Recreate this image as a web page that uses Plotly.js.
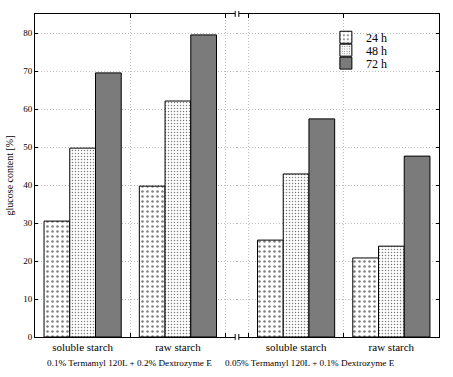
<!DOCTYPE html>
<html>
<head>
<meta charset="utf-8">
<script src="https://cdn.plot.ly/plotly-3.0.1.min.js"></script>
<style>html,body{margin:0;padding:0;background:#fff}#chart{width:453px;height:377px}</style>
</head>
<body>
<div id="chart"></div>
<script>
// ---- data ----
const categories = ["soluble starch", "raw starch"];
const groupLabels = ["0.1% Termamyl 120L + 0.2% Dextrozyme E", "0.05% Termamyl 120L + 0.1% Dextrozyme E"];
const seriesNames = ["24 h", "48 h", "72 h"];
// group A: 0.1% Termamyl 120L + 0.2% Dextrozyme E
const groupA_24h = [30.5, 39.7];
const groupA_48h = [49.7, 62.1];
const groupA_72h = [69.5, 79.5];
// group B: 0.05% Termamyl 120L + 0.1% Dextrozyme E
const groupB_24h = [25.5, 20.8];
const groupB_48h = [42.9, 23.9];
const groupB_72h = [57.4, 47.6];
const yTickVals = [0, 10, 20, 30, 40, 50, 60, 70, 80];

// ---- styles ----
const patterns = [
  {shape: ".", size: 5, solidity: 0.2, fgcolor: "#000", bgcolor: "#fff", fillmode: "overlay"},
  {shape: ".", size: 3, solidity: 0.2, fgcolor: "#000", bgcolor: "#fff", fillmode: "overlay"},
  {shape: ".", size: 2, solidity: 0.75, fgcolor: "#000", bgcolor: "#c4c4c4", fillmode: "overlay"}
];
const serif = "Liberation Serif";
const legendNames = ["legend", "legend2", "legend3"];
const legendY = [0.928, 0.888, 0.848];

const groupA = [groupA_24h, groupA_48h, groupA_72h];
const groupB = [groupB_24h, groupB_48h, groupB_72h];

const traces = [];
seriesNames.forEach((name, i) => {
  traces.push({
    type: "bar", name: name, x: categories, y: groupA[i],
    xaxis: "x", yaxis: "y", legendgroup: name, showlegend: true, legend: legendNames[i],
    marker: {color: "#fff", line: {color: "#000", width: 1}, pattern: patterns[i]}
  });
});
seriesNames.forEach((name, i) => {
  traces.push({
    type: "bar", name: name, x: categories, y: groupB[i],
    xaxis: "x2", yaxis: "y2", legendgroup: name, showlegend: false,
    marker: {color: "#fff", line: {color: "#000", width: 1}, pattern: patterns[i]}
  });
});

const gridStyle = {gridcolor: "#bdbdbd", griddash: "1px,2px", gridwidth: 1};
const xCommon = Object.assign({
  type: "category", showline: true, linecolor: "#000", linewidth: 1, mirror: "ticks",
  ticks: "inside", ticklen: 4, tickcolor: "#000", tickson: "boundaries",
  showgrid: true, zeroline: false, fixedrange: true,
  tickfont: {family: serif, size: 11, color: "#000"}
}, gridStyle);

const layout = {
  width: 453, height: 377,
  margin: {l: 35, r: 14, t: 14, b: 40},
  paper_bgcolor: "#fff", plot_bgcolor: "#fff",
  font: {family: serif, color: "#000"},
  bargap: 0.19, bargroupgap: 0, barmode: "group",
  showlegend: true,
  xaxis: Object.assign({}, xCommon, {domain: [0, 0.5], anchor: "y", range: [-0.5, 1.62]}),
  xaxis2: Object.assign({}, xCommon, {domain: [0.5, 1], anchor: "y2", range: [-0.62, 1.5]}),
  yaxis: Object.assign({
    range: [0, 85], anchor: "x", showline: true, linecolor: "#000", linewidth: 1,
    ticks: "inside", ticklen: 3, tickcolor: "#000", tickvals: yTickVals,
    zeroline: false, fixedrange: true,
    tickfont: {family: serif, size: 9, color: "#000"},
    title: {text: "glucose content [%]", font: {family: serif, size: 10, color: "#000"}, standoff: 7}
  }, gridStyle),
  yaxis2: Object.assign({
    range: [0, 85], anchor: "x2", side: "right", matches: "y", showline: true, linecolor: "#000", linewidth: 1,
    ticks: "inside", ticklen: 3, tickcolor: "#000", tickvals: yTickVals, showticklabels: false,
    zeroline: false, fixedrange: true
  }, gridStyle),
  annotations: [
    {text: groupLabels[0], xref: "paper", yref: "paper", x: 0.233, y: -0.08, xanchor: "center", yanchor: "middle",
     showarrow: false, font: {family: serif, size: 9.2, color: "#000"}},
    {text: groupLabels[1], xref: "paper", yref: "paper", x: 0.681, y: -0.08, xanchor: "center", yanchor: "middle",
     showarrow: false, font: {family: serif, size: 9.2, color: "#000"}}
  ],
  shapes: [
    {type: "rect", xref: "paper", yref: "paper", x0: 0.495, x1: 0.505, y0: -0.006, y1: 0.006,
     line: {width: 0}, fillcolor: "#fff", layer: "above"},
    {type: "line", xref: "paper", yref: "paper", x0: 0.4955, x1: 0.4955, y0: -0.009, y1: 0.009, line: {color: "#000", width: 1}},
    {type: "line", xref: "paper", yref: "paper", x0: 0.5045, x1: 0.5045, y0: -0.009, y1: 0.009, line: {color: "#000", width: 1}},
    {type: "rect", xref: "paper", yref: "paper", x0: 0.495, x1: 0.505, y0: 0.994, y1: 1.006,
     line: {width: 0}, fillcolor: "#fff", layer: "above"},
    {type: "line", xref: "paper", yref: "paper", x0: 0.4955, x1: 0.4955, y0: 0.991, y1: 1.009, line: {color: "#000", width: 1}},
    {type: "line", xref: "paper", yref: "paper", x0: 0.5045, x1: 0.5045, y0: 0.991, y1: 1.009, line: {color: "#000", width: 1}}
  ]
};
legendNames.forEach((ln, i) => {
  layout[ln] = {x: 0.72, y: legendY[i], xanchor: "left", yanchor: "middle",
    bgcolor: "rgba(255,255,255,0)", borderwidth: 0,
    font: {family: serif, size: 12, color: "#000"}};
});

Plotly.newPlot("chart", traces, layout, {displayModeBar: false, staticPlot: true});
</script>
</body>
</html>
